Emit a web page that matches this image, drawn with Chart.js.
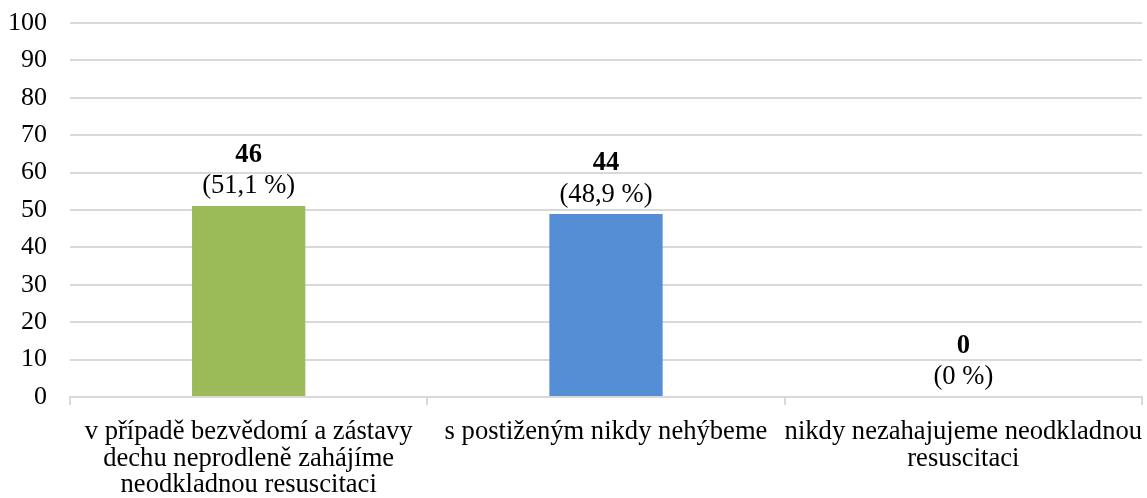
<!DOCTYPE html>
<html>
<head>
<meta charset="utf-8">
<script src="https://cdn.jsdelivr.net/npm/chart.js@4"></script>
<style>
  html, body { margin: 0; padding: 0; background: #fff; }
  #wrap { width: 1147px; height: 498px; }
</style>
</head>
<body>
<div id="wrap"><canvas id="c" width="1147" height="498"></canvas></div>
<script>
// Answers to the question about first aid for an unconscious person
const categories = [
  ['v případě bezvědomí a zástavy', 'dechu neprodleně zahájíme', 'neodkladnou resuscitaci'],
  's postiženým nikdy nehýbeme',
  ['nikdy nezahajujeme neodkladnou', 'resuscitaci']
];
const counts = [46, 44, 0];
const percents = [51.1, 48.9, 0];
const barColors = ['#9BBB59', '#558ED5', '#4F81BD'];
const yTicks = [0, 10, 20, 30, 40, 50, 60, 70, 80, 90, 100];

const FONT = '"Liberation Serif", "Times New Roman", serif';
const SIZE = 26;
const LABEL_SIZE = 26.6;

// Count (bold) and share (in parentheses) above each bar
const valueLabels = {
  id: 'valueLabels',
  afterDatasetsDraw(chart) {
    const ctx = chart.ctx;
    const meta = chart.getDatasetMeta(0);
    ctx.save();
    ctx.textAlign = 'center';
    ctx.textBaseline = 'middle';
    ctx.fillStyle = '#000';
    meta.data.forEach((bar, i) => {
      const x = bar.x;
      const top = bar.y;
      ctx.font = 'bold ' + LABEL_SIZE + 'px ' + FONT;
      ctx.fillText(String(counts[i]), x, top - 51);
      ctx.font = LABEL_SIZE + 'px ' + FONT;
      ctx.fillText('(' + percents[i].toLocaleString('cs-CZ') + ' %)', x, top - 19.5);
    });
    ctx.restore();
  }
};

new Chart(document.getElementById('c'), {
  type: 'bar',
  data: {
    labels: categories,
    datasets: [{
      data: percents,
      backgroundColor: barColors,
      borderWidth: 0,
      barPercentage: 0.317,
      categoryPercentage: 1
    }]
  },
  options: {
    responsive: false,
    animation: false,
    devicePixelRatio: 1,
    layout: { padding: { top: 23, right: 5, left: 0, bottom: 0 } },
    plugins: { legend: { display: false }, tooltip: { enabled: false } },
    scales: {
      x: {
        grid: {
          offset: true,
          drawOnChartArea: false,
          drawTicks: true,
          tickLength: 8,
          color: '#d9d9d9',
          lineWidth: 2
        },
        border: { display: true, color: '#d9d9d9', width: 2 },
        ticks: {
          color: '#000',
          font: { family: FONT, size: LABEL_SIZE, lineHeight: 1.0 },
          padding: 14,
          maxRotation: 0,
          autoSkip: false
        },
        afterFit(scale) {
          scale.height = 101;
          scale.paddingLeft = 0;
          scale.paddingRight = 0;
        }
      },
      y: {
        min: 0,
        max: 100,
        afterBuildTicks(scale) { scale.ticks = yTicks.map(v => ({ value: v })); },
        grid: { color: '#d9d9d9', lineWidth: 2, drawTicks: false },
        border: { display: false },
        ticks: {
          color: '#000',
          font: { family: FONT, size: SIZE },
          padding: 23
        },
        afterFit(scale) {
          scale.width = 70;
          scale.paddingTop = 0;
          scale.paddingBottom = 0;
        }
      }
    }
  },
  plugins: [valueLabels]
});
</script>
</body>
</html>
